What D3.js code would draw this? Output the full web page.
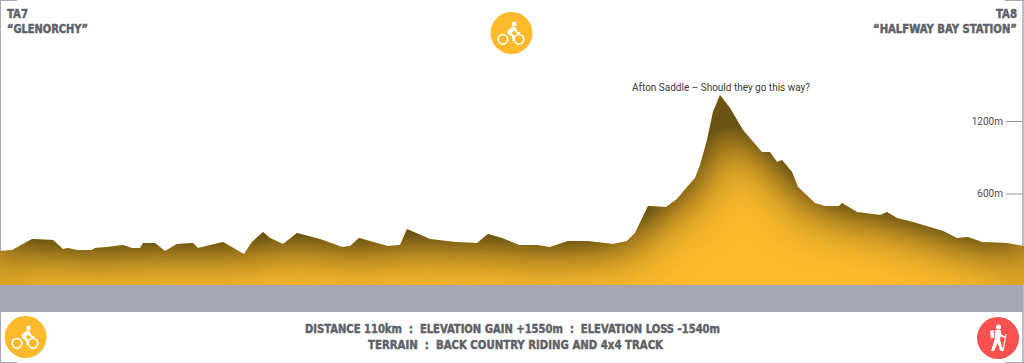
<!DOCTYPE html>
<html>
<head>
<meta charset="utf-8">
<style>
  html, body { margin: 0; padding: 0; background: #fff; }
  svg { display: block; }
  .head { font-family: "DejaVu Sans"; font-weight: 700; font-stretch: condensed; fill: #5e6167; stroke: #5e6167; stroke-width: 0.45; }
  .tick text { font-family: Roboto; fill: #4a4a4a; }
</style>
<script src="https://cdn.jsdelivr.net/npm/d3@7"></script>
</head>
<body>
<svg width="1024" height="363"></svg>
<script>
// distance along the stage (km) and elevation (m)
const distanceKm = [0, 1.29, 3.44, 5.69, 6.77, 7.3, 8.27, 9.88, 10.2, 11.49, 13.21, 14.18, 15.04, 15.36, 16.65, 17.72,
  19.01, 20.73, 21.27, 23.95, 26.21, 27.07, 28.25, 29, 30.4, 31.9, 34.37, 36.74, 37.6, 38.56, 41.68, 42.97, 43.72,
  46.19, 48.88, 51.24, 52.42, 53.93, 55.75, 57.68, 59.08, 61.01, 63.05, 65.85, 67.35, 68.21, 69.61, 71.54, 72.72,
  73.8, 74.66, 75.2, 75.95, 76.59, 77.34, 78.42, 79.81, 81.1, 81.85, 82.71, 83.47, 84, 85.08, 85.72, 87.55, 88.62,
  90.13, 90.45, 92.06, 94.53, 95.28, 96.36, 98.07, 101.3, 102.8, 103.98, 105.49, 108.17, 110];
const elevationM = [124, 132, 223, 215, 141, 149, 132, 132, 149, 157, 174, 149, 149, 190, 190, 124,
  182, 190, 149, 199, 99, 199, 281, 232, 182, 273, 223, 157, 166, 232, 166, 174, 306,
  223, 199, 190, 265, 232, 174, 174, 157, 207, 207, 182, 207, 273, 497, 488, 554,
  654, 728, 836, 1043, 1275, 1415, 1308, 1126, 1010, 943, 943, 861, 877, 778, 654, 521, 497,
  497, 521, 447, 422, 447, 397, 364, 290, 232, 240, 199, 190, 166];
const baseElevation = -157; // the ground line of the profile
const elevationTicks = [600, 1200];

const topLeftLabels = ["TA7", "\u201CGLENORCHY\u201D"];
const topRightLabels = ["TA8", "\u201CHALFWAY BAY STATION\u201D"];
const summaryLines = ["DISTANCE 110km  :  ELEVATION GAIN +1550m  :  ELEVATION LOSS -1540m",
  "TERRAIN  :  BACK COUNTRY RIDING AND 4x4 TRACK"];
const peakNote = "Afton Saddle \u2013 Should they go this way?";

const svg = d3.select("svg");
const grey = "#a5a8b4", yellow = "#fbb92c", red = "#f9514f";

const scX = d3.scaleLinear().domain([0, 110]).range([0, 1024]);
const scY = d3.scaleLinear().domain([0, 1200]).range([266, 121]);
const groundY = scY(baseElevation);

// inner shadow: dark along the ridge line, fading down to the plain yellow
// the filter box stops just past the sides, so the sides barely get any shadow
const defs = svg.append("defs");
const f = defs.append("filter").attr("id", "ridge")
  .attr("filterUnits", "userSpaceOnUse")
  .attr("x", -6).attr("y", 0).attr("width", 1036).attr("height", 420)
  .attr("color-interpolation-filters", "sRGB");
f.append("feFlood").attr("flood-color", "#6b5414").attr("result", "dark");
f.append("feComposite").attr("in", "dark").attr("in2", "SourceAlpha").attr("operator", "out").attr("result", "outside");
f.append("feGaussianBlur").attr("in", "outside").attr("stdDeviation", 27).attr("result", "soft");
const ct = f.append("feComponentTransfer").attr("in", "soft").attr("result", "strong");
ct.append("feFuncA").attr("type", "linear").attr("slope", 1.75);
f.append("feComposite").attr("in", "strong").attr("in2", "SourceAlpha").attr("operator", "in").attr("result", "shadow");
const merge = f.append("feMerge");
merge.append("feMergeNode").attr("in", "SourceGraphic");
merge.append("feMergeNode").attr("in", "shadow");

defs.append("clipPath").attr("id", "ground")
  .append("rect").attr("x", 0).attr("y", 0).attr("width", 1024).attr("height", groundY);

// frame
svg.append("line").attr("x1", 0.5).attr("x2", 0.5).attr("y1", 0).attr("y2", 363).attr("stroke", grey);
svg.append("line").attr("x1", 1023).attr("x2", 1023).attr("y1", 0).attr("y2", 363).attr("stroke", grey).attr("stroke-width", 1.5);
[[0, 17], [1005, 1024]].forEach(d => {
  svg.append("line").attr("x1", d[0]).attr("x2", d[1]).attr("y1", 0.5).attr("y2", 0.5).attr("stroke", grey);
  svg.append("line").attr("x1", d[0]).attr("x2", d[1]).attr("y1", 362.5).attr("y2", 362.5).attr("stroke", grey);
});

// profile, drawn past the ground line so the shadow only comes from the ridge
const area = d3.area()
  .x((d, i) => scX(distanceKm[i]))
  .y0(groundY + 80)
  .y1(d => scY(d));
svg.append("g").attr("clip-path", "url(#ground)")
  .append("path")
  .datum(elevationM)
  .attr("d", area)
  .attr("fill", yellow)
  .attr("filter", "url(#ridge)");

svg.append("rect").attr("x", 1).attr("y", groundY).attr("width", 1022).attr("height", 312 - groundY).attr("fill", grey);

// elevation axis on the right
const axisY = d3.axisLeft(scY).tickValues(elevationTicks).tickSize(17).tickPadding(3).tickFormat(d => d + "m");
const gAxis = svg.append("g").attr("transform", "translate(1023,0)").call(axisY);
gAxis.select(".domain").remove();
gAxis.selectAll("line").attr("stroke", "#9a9a9a");
gAxis.selectAll("text").style("font-size", "10px").attr("font-family", null);

// texts
function putText(str, x, y, anchor, size, len) {
  svg.append("text").attr("class", "head")
    .attr("x", x).attr("y", y)
    .attr("text-anchor", anchor)
    .attr("textLength", len).attr("lengthAdjust", "spacingAndGlyphs")
    .style("font-size", size + "px")
    .style("white-space", "pre")
    .text(str);
}
putText(topLeftLabels[0], 7, 17.5, "start", 11.5, 21);
putText(topLeftLabels[1], 7, 32.5, "start", 11.5, 81);
putText(topRightLabels[0], 1017, 17.5, "end", 11.5, 21);
putText(topRightLabels[1], 1017, 32.5, "end", 11.5, 144);
putText(summaryLines[0], 512.5, 333, "middle", 12.5, 415);
putText(summaryLines[1], 515.5, 349, "middle", 12.5, 295);

svg.append("text")
  .attr("x", 721).attr("y", 91)
  .attr("text-anchor", "middle")
  .attr("textLength", 178).attr("lengthAdjust", "spacingAndGlyphs")
  .style("font-family", "Roboto").style("font-size", "10.5px").style("fill", "#3a3a3a")
  .text(peakNote);

// round icons
function bikeIcon(cx, cy) {
  const g = svg.append("g").attr("transform", `translate(${cx},${cy})`);
  g.append("circle").attr("r", 21).attr("fill", yellow);
  [-8.6, 7.4].forEach(x => g.append("circle").attr("cx", x).attr("cy", 6.3).attr("r", 4.8)
    .attr("fill", "none").attr("stroke", "#fff").attr("stroke-width", 1.7));
  g.append("circle").attr("cx", 2.8).attr("cy", -9).attr("r", 2.4).attr("fill", "#fff");
  g.append("path").attr("d", "M-4,-2 L1,-6.5 L4,-6 L6,-1.5 L9,-0.5 L8.4,1 L4.4,0 L2.8,-2.6 L0,0 L3,3 L2.6,8 L0.8,8 L0.8,4 L-4,0.4 Z").attr("fill", "#fff");
}
function hikerIcon(cx, cy) {
  const g = svg.append("g").attr("transform", `translate(${cx},${cy})`);
  g.append("circle").attr("r", 21).attr("fill", red);
  g.append("circle").attr("cx", 0.5).attr("cy", -11).attr("r", 2.6).attr("fill", "#fff");
  g.append("path").attr("d", "M-8,-7 L-4.5,-8 L-3.5,-0.5 L-7,0.5 Z").attr("fill", "#fff");
  g.append("path").attr("d", "M-3,-8 L2.5,-8 L3.5,-3.5 L7,-1.5 L6.4,0 L2.4,-1.4 L2,2 L5.5,13 L2.5,13 L-0.5,5 L-4,13 L-7,13 L-3.2,1 Z").attr("fill", "#fff");
  g.append("line").attr("x1", 8).attr("x2", 5).attr("y1", -4).attr("y2", 13).attr("stroke", "#fff").attr("stroke-width", 1.2);
}
bikeIcon(511.5, 33);
bikeIcon(25.6, 337);
hikerIcon(998, 338);
</script>
</body>
</html>
